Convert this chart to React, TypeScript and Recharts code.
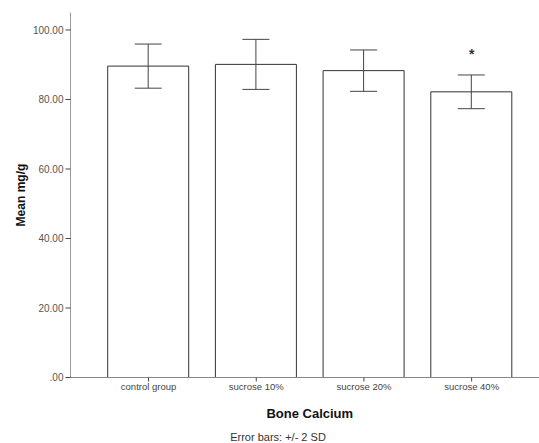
import { Bar, ComposedChart, ErrorBar, Line, XAxis, YAxis } from "recharts";

const groups = ["control group", "sucrose 10%", "sucrose 20%", "sucrose 40%"];
const means = [89.6, 90.1, 88.3, 82.2];
const twoSd = [6.35, 7.2, 5.95, 4.85];
const significance = [null, null, null, 93.3];
const yTicks = [0, 20, 40, 60, 80, 100];

const data = groups.map((name, i) => ({
  name,
  mean: means[i],
  err: twoSd[i],
  star: significance[i],
}));

const font = "'Liberation Sans', Arial, sans-serif";

function StarDot(props: any) {
  const { cx, cy, value, index } = props;
  if (value == null) return <g key={index} />;
  return (
    <text key={index} x={cx} y={cy} dy={6} textAnchor="middle" fontSize={14} fontWeight="bold" fontFamily={font} fill="#333">
      *
    </text>
  );
}

export default function App() {
  return (
    <div style={{ position: "absolute", left: 0, top: 0, width: 539, height: 443, background: "#fff" }}>
      <ComposedChart
        width={539}
        height={443}
        data={data}
        margin={{ top: 12.6, right: 0, left: 0.5, bottom: 20.5 }}
      >
        <XAxis
          dataKey="name"
          height={45}
          padding={{ left: 24.2, right: 13.5 }}
          stroke="#888"
          tickSize={4}
          tick={{ fill: "#444", fontSize: 9.5, fontFamily: font }}
          tickLine={{ stroke: "#444" }}
          label={{
            value: "Bone Calcium",
            position: "insideBottom",
            offset: 5,
            dx: 5,
            style: { fontFamily: font, fontSize: 13, fontWeight: "bold", fill: "#111" },
          }}
        />
        <YAxis
          width={70}
          domain={[0, 105]}
          ticks={yTicks}
          stroke="#999"
          tickSize={5}
          tickFormatter={(v: number) => (v === 0 ? ".00" : v.toFixed(2))}
          tick={{ fill: "#555", fontSize: 10, fontFamily: font }}
          tickLine={{ stroke: "#444" }}
          label={{
            value: "Mean mg/g",
            angle: -90,
            position: "insideLeft",
            offset: 20,
            style: { textAnchor: "middle", fontFamily: font, fontSize: 12, fontWeight: "bold", fill: "#111" },
          }}
        />
        <Bar dataKey="mean" barSize={81} fill="#fff" stroke="#333" strokeWidth={1} isAnimationActive={false}>
          <ErrorBar dataKey="err" width={13.5} stroke="#444" strokeWidth={1} />
        </Bar>
        <Line dataKey="star" stroke="none" dot={<StarDot />} activeDot={false} isAnimationActive={false} />
      </ComposedChart>
      <div
        style={{
          position: "absolute",
          left: 0,
          width: 556,
          top: 431,
          textAlign: "center",
          fontFamily: font,
          fontSize: 11,
          color: "#333",
        }}
      >
        Error bars: +/- 2 SD
      </div>
    </div>
  );
}
